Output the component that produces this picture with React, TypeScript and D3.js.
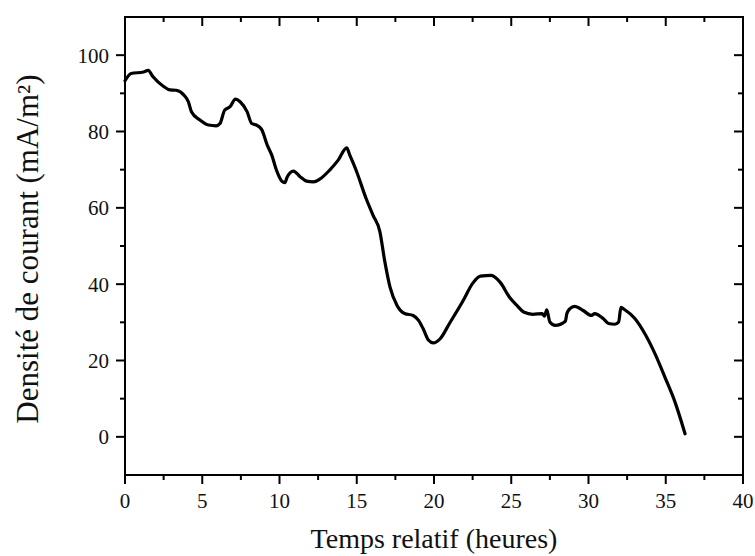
import React from 'react';
import * as d3 from 'd3';

// relative time (hours) and current density (mA/m²)
const timeHours = [
  0, 0.4, 1.2, 1.5, 1.8, 2.5, 2.9, 3.3, 3.8, 4.1,
  4.3, 4.85, 5.4, 5.9, 6.15, 6.45, 6.8, 7.15, 7.45, 7.9,
  8.2, 8.5, 8.85, 9.2, 9.5, 9.8, 10.15, 10.35, 10.5, 10.9,
  11.35, 11.75, 12.2, 12.6, 13.25, 13.8, 14.35, 14.55, 15.0, 15.6,
  16.05, 16.5, 16.8, 17.15, 17.6, 18.1, 18.65, 19.0, 19.3, 19.65,
  19.95, 20.4, 21.0, 21.9, 22.5, 23.0, 23.7, 24.3, 24.9, 25.35,
  25.8, 26.4, 27.0, 27.15, 27.3, 27.5, 27.85, 28.5, 28.6, 28.8,
  29.1, 29.65, 30.2, 30.4, 30.95, 31.3, 31.7, 31.95, 32.1, 32.35,
  33.0, 33.65, 34.3, 34.95, 35.6, 36.25,
];
const currentDensity = [
  93.3, 95.2, 95.6, 96.0, 94.4, 91.8, 90.9, 90.8, 89.6, 87.8,
  85.2, 83.0, 81.7, 81.5, 82.1, 85.6, 86.5, 88.5, 87.8, 85.2,
  82.1, 81.7, 80.5, 76.5, 73.8, 69.9, 67.0, 66.6, 68.1, 69.6,
  68.1, 67.0, 66.8, 67.5, 69.9, 72.5, 75.7, 73.8, 69.4, 62.5,
  58.1, 53.7, 46.3, 39.3, 34.5, 32.3, 31.8, 30.5, 28.3, 25.3,
  24.6, 25.7, 29.7, 35.8, 40.2, 42.1, 42.3, 40.4, 36.5, 34.5,
  32.7, 32.1, 32.3, 31.6, 33.3, 30.1, 29.2, 30.3, 32.3, 33.6,
  34.2, 33.1, 31.8, 32.3, 31.0, 29.7, 29.5, 30.1, 33.9, 33.3,
  31.0, 27.0, 21.8, 15.6, 9.1, 0.8,
];

const xMajorTicks = [0, 5, 10, 15, 20, 25, 30, 35, 40];
const xMinorTicks = [2.5, 7.5, 12.5, 17.5, 22.5, 27.5, 32.5, 37.5];
const yMajorTicks = [0, 20, 40, 60, 80, 100];
const yMinorTicks = [10, 30, 50, 70, 90];

const width = 755;
const height = 556;
const margin = { top: 17, right: 12, bottom: 81, left: 125 };
const font = '"Liberation Serif", "Times New Roman", serif';

export default function App() {
  const x = d3.scaleLinear().domain([0, 40]).range([margin.left, width - margin.right]);
  const y = d3.scaleLinear().domain([-10, 110]).range([height - margin.bottom, margin.top]);

  const points = timeHours.map((t, i) => [t, currentDensity[i]] as [number, number]);
  const line = d3.line<[number, number]>()
    .x(d => x(d[0]))
    .y(d => y(d[1]))
    .curve(d3.curveMonotoneX);

  const x0 = x.range()[0], x1 = x.range()[1];
  const y0 = y.range()[0], y1 = y.range()[1];
  const major = 9;
  const minor = 5;

  return (
    <svg width={width} height={height} style={{ position: 'absolute', left: 0, top: 0, background: '#fff' }}>
      {/* frame */}
      <rect x={x0} y={y1} width={x1 - x0} height={y0 - y1} fill="none" stroke="#000" strokeWidth={2} />

      {/* bottom ticks (outward) and top ticks (inward) */}
      {xMajorTicks.map(t => (
        <g key={'xM' + t}>
          <line x1={x(t)} x2={x(t)} y1={y0} y2={y0 + major} stroke="#000" strokeWidth={2} />
          <line x1={x(t)} x2={x(t)} y1={y1} y2={y1 + major} stroke="#000" strokeWidth={2} />
          <text x={x(t)} y={y0 + 33} textAnchor="middle" fontFamily={font} fontSize={21} fill="#111">{t}</text>
        </g>
      ))}
      {xMinorTicks.map(t => (
        <g key={'xm' + t}>
          <line x1={x(t)} x2={x(t)} y1={y0} y2={y0 + minor} stroke="#000" strokeWidth={2} />
          <line x1={x(t)} x2={x(t)} y1={y1} y2={y1 + minor} stroke="#000" strokeWidth={2} />
        </g>
      ))}

      {/* left ticks (outward) and right ticks (inward) */}
      {yMajorTicks.map(v => (
        <g key={'yM' + v}>
          <line x1={x0 - major} x2={x0} y1={y(v)} y2={y(v)} stroke="#000" strokeWidth={2} />
          <line x1={x1 - major} x2={x1} y1={y(v)} y2={y(v)} stroke="#000" strokeWidth={2} />
          <text x={x0 - 16} y={y(v)} dy="0.35em" textAnchor="end" fontFamily={font} fontSize={21} fill="#111">{v}</text>
        </g>
      ))}
      {yMinorTicks.map(v => (
        <g key={'ym' + v}>
          <line x1={x0 - minor} x2={x0} y1={y(v)} y2={y(v)} stroke="#000" strokeWidth={2} />
          <line x1={x1 - minor} x2={x1} y1={y(v)} y2={y(v)} stroke="#000" strokeWidth={2} />
        </g>
      ))}

      {/* data */}
      <path d={line(points) || ''} fill="none" stroke="#000" strokeWidth={3.2} strokeLinejoin="round" strokeLinecap="round" />

      {/* axis titles */}
      <text x={(x0 + x1) / 2} y={548} textAnchor="middle" fontFamily={font} fontSize={28} fill="#111">
        Temps relatif (heures)
      </text>
      <text
        transform="translate(38, 249) rotate(-90)"
        textAnchor="middle"
        fontFamily={font}
        fontSize={31}
        fill="#111"
      >
        Densité de courant (mA/m²)
      </text>
    </svg>
  );
}
